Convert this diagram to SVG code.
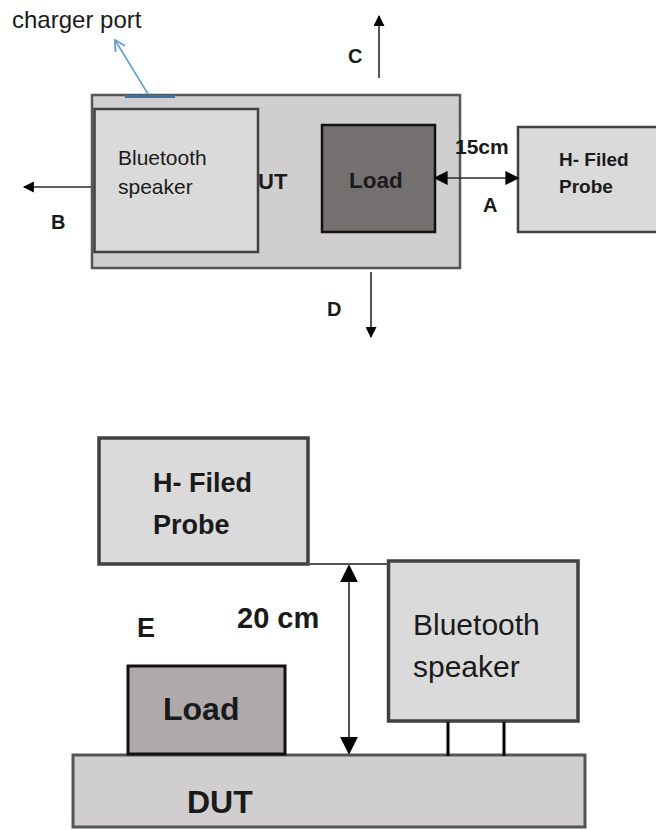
<svg xmlns="http://www.w3.org/2000/svg" width="656" height="830" viewBox="0 0 656 830">
<style>
text{font-family:"Liberation Sans",Arial,sans-serif;fill:#1a1a1a}
.b{font-weight:bold}
.box{fill:#dadada;stroke:#404040}
.dut{fill:#d0cece;stroke:#555}
.ln{stroke:#2a2a2a;stroke-width:1.6;fill:none}
</style>
<defs>
<marker id="tri" viewBox="0 0 10 10" refX="9" refY="5" markerWidth="12" markerHeight="11" markerUnits="userSpaceOnUse" orient="auto-start-reverse"><path d="M0,0 L10,5 L0,10 z" fill="#000"/></marker>
<marker id="triL" viewBox="0 0 10 10" refX="9" refY="5" markerWidth="14" markerHeight="15" markerUnits="userSpaceOnUse" orient="auto-start-reverse"><path d="M0,0 L10,5 L0,10 z" fill="#000"/></marker>
<marker id="triXL" viewBox="0 0 10 10" refX="9" refY="5" markerWidth="18" markerHeight="20" markerUnits="userSpaceOnUse" orient="auto-start-reverse"><path d="M0,0 L10,5 L0,10 z" fill="#000"/></marker>
<marker id="open" viewBox="0 0 10 10" refX="9" refY="5" markerWidth="12" markerHeight="12" markerUnits="userSpaceOnUse" orient="auto"><path d="M0,0 L9,5 L0,10" fill="none" stroke="#5b9bd5" stroke-width="1.5"/></marker>
</defs>

<!-- Top view -->
<g id="dut-top">
<rect class="dut" x="92" y="95" width="368" height="173" stroke-width="2.5"/>
<text class="b" x="258" y="189" font-size="22">UT</text>
</g>
<g id="charger-port">
<line x1="125" y1="96.5" x2="175" y2="96.5" stroke="#41719c" stroke-width="3"/>
<text x="12" y="28" font-size="24">charger port</text>
</g>
<g id="bt-top">
<rect class="box" x="94.5" y="109" width="163.5" height="143" stroke-width="2.5"/>
<text x="118" y="165" font-size="21">Bluetooth</text>
<text x="118" y="194" font-size="21">speaker</text>
</g>
<g id="load-top">
<rect x="322" y="125" width="113" height="107" fill="#757070" stroke="#111" stroke-width="2.5"/>
<text class="b" x="349" y="188" font-size="22.5">Load</text>
</g>
<g id="probe-top">
<rect class="box" x="518" y="127" width="150" height="105" stroke-width="2.5"/>
<text class="b" x="559" y="166" font-size="19">H- Filed</text>
<text class="b" x="559" y="193" font-size="19">Probe</text>
</g>
<g id="labels-top">
<text class="b" x="455" y="154" font-size="21">15cm</text>
<text class="b" x="483" y="212" font-size="20">A</text>
<text class="b" x="348" y="63" font-size="20">C</text>
<text class="b" x="327" y="316" font-size="20">D</text>
<text class="b" x="51" y="229" font-size="20">B</text>
</g>

<!-- Side view -->
<g id="dut-side">
<rect class="dut" x="73" y="755" width="512" height="72" stroke-width="3"/>
<text class="b" x="187" y="813" font-size="32">DUT</text>
</g>
<g id="load-side">
<rect x="128" y="666" width="157" height="88" fill="#aeaaaa" stroke="#111" stroke-width="3"/>
<text class="b" x="163" y="720" font-size="32">Load</text>
</g>
<g id="probe-side">
<rect class="box" x="99" y="438" width="209" height="126" stroke-width="3.5"/>
<text class="b" x="153" y="492" font-size="27">H- Filed</text>
<text class="b" x="153" y="534" font-size="27">Probe</text>
</g>
<g id="bt-side">
<rect class="box" x="388.5" y="561" width="189.5" height="160" stroke-width="3.5"/>
<text x="413" y="635" font-size="30">Bluetooth</text>
<text x="413" y="677" font-size="30">speaker</text>
<line x1="448" y1="722" x2="448" y2="756" stroke="#000" stroke-width="3"/>
<line x1="504" y1="722" x2="504" y2="756" stroke="#000" stroke-width="3"/>
</g>
<g id="labels-side">
<text class="b" x="237" y="628" font-size="29">20 cm</text>
<text class="b" x="137" y="637" font-size="27">E</text>
</g>

<g id="connectors">
<line x1="148" y1="94" x2="115" y2="40" stroke="#5b9bd5" stroke-width="1.5" marker-end="url(#open)"/>
<line class="ln" x1="379" y1="78" x2="379" y2="16" marker-end="url(#tri)"/>
<line class="ln" x1="371" y1="272" x2="371" y2="337" marker-end="url(#tri)"/>
<line class="ln" x1="91" y1="187" x2="24" y2="187" marker-end="url(#tri)"/>
<line class="ln" x1="435" y1="178" x2="518" y2="178" marker-start="url(#triL)" marker-end="url(#triL)"/>
<line x1="308" y1="564" x2="388" y2="564" stroke="#555" stroke-width="2"/>
<line class="ln" x1="349" y1="566" x2="349" y2="753" marker-start="url(#triXL)" marker-end="url(#triXL)"/>
</g>
</svg>
